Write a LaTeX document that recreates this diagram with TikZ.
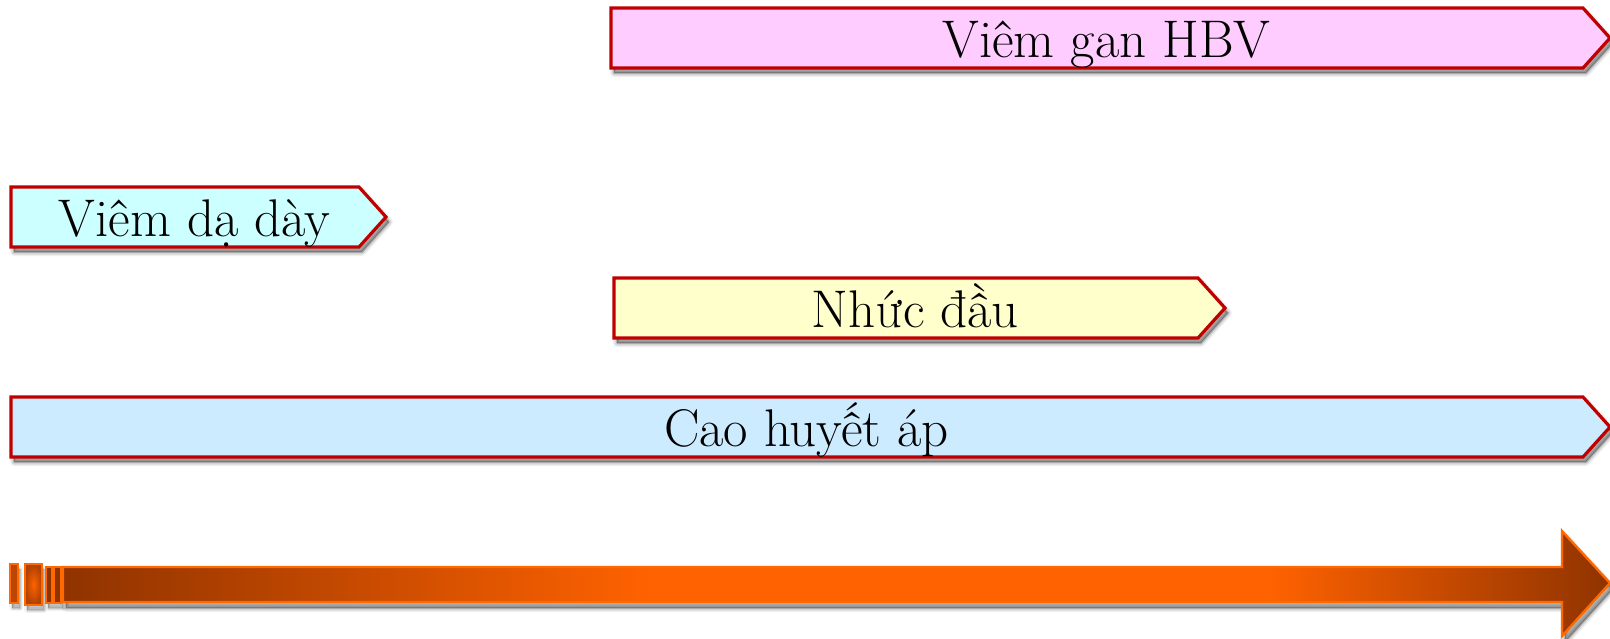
\documentclass[tikz,border=0pt]{standalone}
\usepackage{fontspec}
\setmainfont{Latin Modern Roman}
\usetikzlibrary{calc}
\definecolor{edge}{HTML}{C00000}
\definecolor{pinkfill}{HTML}{FFCCFF}
\definecolor{cyanfill}{HTML}{CCFFFF}
\definecolor{yellowfill}{HTML}{FFFFCC}
\definecolor{bluefill}{HTML}{CCEBFF}
\definecolor{arrdark}{HTML}{8F3300}
\definecolor{arrbright}{HTML}{FF6200}
\definecolor{arredge}{HTML}{FF6A00}
\pgfdeclarehorizontalshading{arrowshade}{100bp}{color(0bp)=(arrdark); color(25bp)=(arrdark); color(44bp)=(arrbright); color(64bp)=(arrbright); color(75bp)=(arrdark); color(100bp)=(arrdark)}
\tikzset{
  lbl/.style={anchor=base, font=\fontsize{26.5pt}{31pt}\selectfont, text=black, inner sep=0pt},
  tagshadow/.style={black, line join=round},
  tagframe/.style={draw=edge, line width=1.6pt, line join=miter},
  barframe/.style={draw=arredge, line width=1.1pt},
}
\newcommand\tagbox[7]{% #1 name, #2 fill, #3 x1, #4 y1, #5 x2, #6 y2, #7 text
  \foreach \w/\o in {8/0.06,5/0.1,2/0.18}{
    \filldraw[tagshadow, opacity=\o, line width=\w*0.5pt]
      (#3+3,#4+5) -- (#5-27+3,#4+5) -- (#5+3,{(#4+#6)/2+5}) -- (#5-27+3,#6+5) -- (#3+3,#6+5) -- cycle;
  }
  \filldraw[tagframe, fill=#2]
    (#3,#4) -- (#5-27,#4) -- (#5,{(#4+#6)/2}) -- (#5-27,#6) -- (#3,#6) -- cycle;
  \node[lbl] (#1) at ({(#3+#5)/2-4},{(#4+#6)/2+19}) {#7};
}
\newcommand\barshadow[4]{%
  \foreach \w/\o in {6/0.05,3/0.08,1/0.12}{
    \filldraw[tagshadow, opacity=\o, line width=\w*0.5pt] (#1+2,#2+5) rectangle (#3+2,#4+5);
  }
}
\begin{document}
\begin{tikzpicture}[x=0.5pt,y=-0.5pt]
\useasboundingbox (0,0) rectangle (1610,638);
\tagbox{hbv}{pinkfill}{611}{8}{1610}{68}{Viêm gan HBV}
\tagbox{dd}{cyanfill}{11}{187}{386}{247}{Viêm dạ dày}
\tagbox{nd}{yellowfill}{614}{278}{1225}{338}{Nhức đầu}
\tagbox{cha}{bluefill}{11}{397}{1610}{457}{Cao huyết áp}
% big time arrow shadow
\foreach \w/\o in {8/0.06,5/0.1,2/0.18}{
  \filldraw[tagshadow, opacity=\o, line width=\w*0.5pt]
    (63+3,567+6) -- (1562+3,567+6) -- (1562+3,531+6) -- (1610+3,583+6) -- (1562+3,636+6) -- (1562+3,602+6) -- (63+3,602+6) -- cycle;
}
\barshadow{10}{564}{18}{603}
\barshadow{25}{564}{42}{605}
\barshadow{46}{567}{61}{603}
% big time arrow
\path[shading=arrowshade, draw=arredge, line width=1.2pt, line join=miter]
  (63,567) -- (1562,567) -- (1562,531) -- (1610,583) -- (1562,636) -- (1562,602) -- (63,602) -- cycle;
\coordinate (tip) at (1610,583);
\filldraw[barframe, fill=arrdark!60!arrbright] (10,564) rectangle (18,603);
\path[barframe, inner color=arrbright, outer color=arrdark!70!arrbright] (25,564) rectangle (42,605);
\filldraw[barframe, fill=arrdark] (46,567) rectangle (52,603);
\filldraw[barframe, fill=arrdark] (54,567) rectangle (61,603);
\end{tikzpicture}
\end{document}
